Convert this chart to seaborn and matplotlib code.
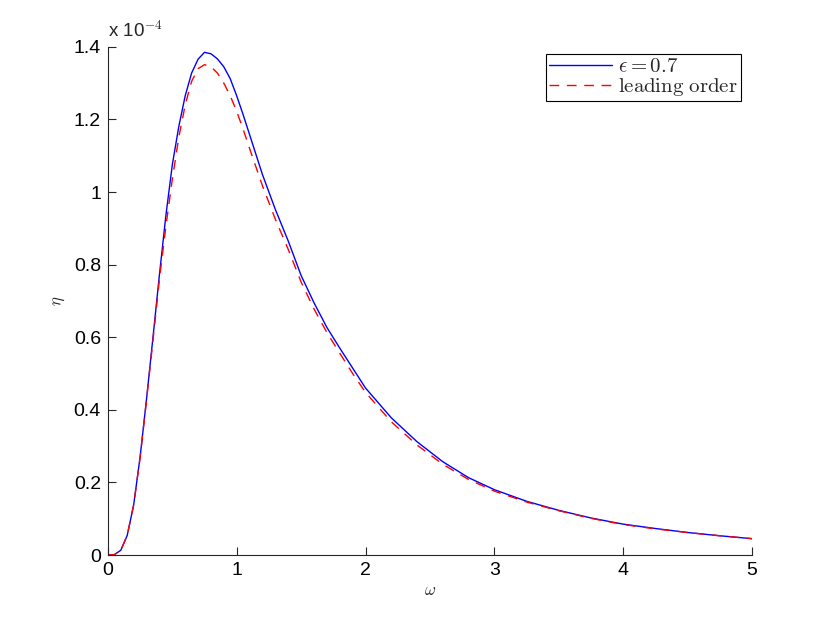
import matplotlib
matplotlib.use("Agg")
import matplotlib.pyplot as plt
from matplotlib.ticker import FuncFormatter
import pandas as pd
import seaborn as sns

# eta values are in units of 1e-4 (axis shows "x 10^-4")
omega = [0.0, 0.05, 0.1, 0.15, 0.2, 0.25, 0.3, 0.35, 0.4, 0.45,
         0.5, 0.55, 0.6, 0.65, 0.7, 0.75, 0.8, 0.85, 0.9, 0.95,
         1.0, 1.05, 1.1, 1.2, 1.3, 1.4, 1.5, 1.6, 1.7, 1.8, 1.9,
         2.0, 2.2, 2.4, 2.6, 2.8, 3.0, 3.25, 3.5, 3.75, 4.0,
         4.25, 4.5, 4.75, 5.0]
eta_eps07 = [0.0, 0.001, 0.013, 0.054, 0.138, 0.27, 0.43, 0.60, 0.772, 0.935,
             1.075, 1.18, 1.265, 1.328, 1.366, 1.385, 1.381, 1.367, 1.345, 1.312,
             1.265, 1.213, 1.158, 1.048, 0.952, 0.865, 0.77, 0.695, 0.627, 0.57, 0.515,
             0.46, 0.378, 0.312, 0.257, 0.213, 0.18, 0.148, 0.123, 0.102, 0.085,
             0.073, 0.062, 0.053, 0.045]
eta_leading = [0.0, 0.001, 0.013, 0.054, 0.138, 0.268, 0.427, 0.592, 0.76, 0.905,
               1.035, 1.15, 1.24, 1.305, 1.340, 1.351, 1.345, 1.328, 1.300, 1.265,
               1.222, 1.173, 1.12, 1.017, 0.925, 0.842, 0.752, 0.678, 0.613, 0.556, 0.50,
               0.448, 0.367, 0.303, 0.25, 0.208, 0.176, 0.146, 0.122, 0.101, 0.084,
               0.072, 0.062, 0.053, 0.045]
labels = [r"$\epsilon = 0.7$", r"$\mathrm{leading\ order}$"]

df = pd.DataFrame({"omega": omega, "full": eta_eps07, "leading": eta_leading})

sns.set_style("ticks")
plt.rcParams["font.family"] = ["Liberation Sans", "DejaVu Sans"]
plt.rcParams["mathtext.fontset"] = "cm"

fig = plt.figure(figsize=(8.3, 6.25), dpi=100)
ax = fig.add_axes([0.130, 0.112, 0.776, 0.813])

sns.lineplot(data=df, x="omega", y="full", ax=ax, color="#0000ff",
             linewidth=1.0, label=labels[0], sort=False)
sns.lineplot(data=df, x="omega", y="leading", ax=ax, color="#ff0000",
             linewidth=1.0, label=labels[1], sort=False)
ax.lines[1].set_dashes([7, 5.5])

ax.set_xlim(0, 5)
ax.set_ylim(0, 1.4)
ax.set_xticks([0, 1, 2, 3, 4, 5])
ax.set_yticks([0, 0.2, 0.4, 0.6, 0.8, 1.0, 1.2, 1.4])
ax.yaxis.set_major_formatter(FuncFormatter(lambda v, p: f"{v:g}"))
ax.tick_params(direction="in", length=6, width=0.8, labelsize=14,
               colors="#262626", labelcolor="black", pad=5)

for side in ["top", "right"]:
    ax.spines[side].set_visible(False)
for side in ["left", "bottom"]:
    ax.spines[side].set_color("#262626")
    ax.spines[side].set_linewidth(0.8)

ax.set_xlabel(r"$\omega$", fontsize=12, labelpad=3)
ax.set_ylabel(r"$\eta$", fontsize=12, labelpad=5)

ax.text(0.0, 1.012, r"x 10$^{-4}$", transform=ax.transAxes, fontsize=13.5,
        ha="left", va="bottom")

leg = ax.legend(loc="upper right", bbox_to_anchor=(0.983, 0.986),
                fontsize=15, handlelength=3.0, handletextpad=0.3,
                borderpad=0.15, labelspacing=0.0, fancybox=False,
                framealpha=1, borderaxespad=0)
leg.get_frame().set_edgecolor("black")
leg.get_frame().set_linewidth(0.8)

fig.savefig("out.png", dpi=100)
